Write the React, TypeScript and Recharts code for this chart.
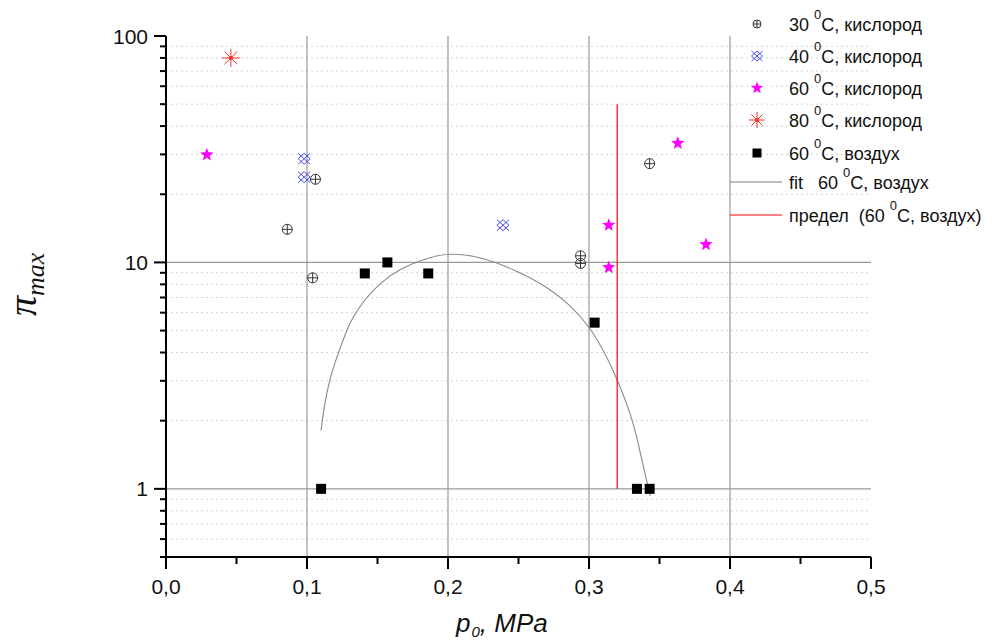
import React from "react";
import {
  ScatterChart, Scatter, XAxis, YAxis, ReferenceLine,
} from "recharts";

// p0, MPa vs pi_max
const o2At30 = [
  { x: 0.086, y: 14.0 }, { x: 0.104, y: 8.55 }, { x: 0.106, y: 23.3 },
  { x: 0.294, y: 10.7 }, { x: 0.294, y: 9.9 }, { x: 0.343, y: 27.3 },
];
const o2At40 = [{ x: 0.098, y: 28.7 }, { x: 0.098, y: 23.8 }, { x: 0.239, y: 14.6 }];
const o2At60 = [
  { x: 0.029, y: 29.9 }, { x: 0.314, y: 14.6 }, { x: 0.314, y: 9.5 },
  { x: 0.363, y: 33.6 }, { x: 0.383, y: 12.0 },
];
const o2At80 = [{ x: 0.046, y: 80 }];
const airAt60 = [
  { x: 0.110, y: 1 }, { x: 0.141, y: 8.94 }, { x: 0.157, y: 10 }, { x: 0.186, y: 8.94 },
  { x: 0.304, y: 5.42 }, { x: 0.334, y: 1 }, { x: 0.343, y: 1 },
];
const fitAir = [
  { x: 0.110, y: 1.81 }, { x: 0.112, y: 2.3 }, { x: 0.1164, y: 3.13 }, { x: 0.1221, y: 3.95 },
  { x: 0.1306, y: 5.57 }, { x: 0.1412, y: 6.9 }, { x: 0.1519, y: 8.11 }, { x: 0.1661, y: 9.44 },
  { x: 0.1874, y: 10.55 }, { x: 0.2002, y: 10.99 }, { x: 0.2229, y: 10.66 }, { x: 0.2512, y: 9.06 },
  { x: 0.2704, y: 7.78 }, { x: 0.2867, y: 6.49 }, { x: 0.3009, y: 5.18 }, { x: 0.313, y: 3.8 },
  { x: 0.3201, y: 3.03 }, { x: 0.3314, y: 2.02 }, { x: 0.3385, y: 1.25 }, { x: 0.3435, y: 0.93 },
];
const limitAir = [{ x: 0.32, y: 1 }, { x: 0.32, y: 50 }];

const xTicks = [0, 0.05, 0.1, 0.15, 0.2, 0.25, 0.3, 0.35, 0.4, 0.45, 0.5];
const xMajor = [0, 0.1, 0.2, 0.3, 0.4, 0.5];
const xGrid = [0.1, 0.2, 0.3, 0.4];
const yTicks = [
  0.5, 0.6, 0.7, 0.8, 0.9, 1, 2, 3, 4, 5, 6, 7, 8, 9,
  10, 20, 30, 40, 50, 60, 70, 80, 90, 100,
];
const yMajor = [1, 10, 100];
const yGrid = [1, 10];
const yMinorGrid = [
  0.6, 0.7, 0.8, 0.9, 2, 3, 4, 5, 6, 7, 8, 9, 20, 30, 40, 50, 60, 70, 80, 90,
];

const SANS = "'Liberation Sans', Arial, sans-serif";

type P = { cx?: number; cy?: number };

const oplus = (cx: number, cy: number, r: number) => (
  <g stroke="#333" strokeWidth={1} fill="none">
    <circle cx={cx} cy={cy} r={r} />
    <line x1={cx - r} x2={cx + r} y1={cy} y2={cy} />
    <line x1={cx} x2={cx} y1={cy - r} y2={cy + r} />
  </g>
);
const hatch = (cx: number, cy: number, w: number, h: number) => (
  <g stroke="#4848e8" strokeWidth={1} fill="none">
    <line x1={cx - w} y1={cy - h} x2={cx + w} y2={cy + h} />
    <line x1={cx - w} y1={cy + h} x2={cx + w} y2={cy - h} />
    <polygon points={`${cx},${cy - h} ${cx + w},${cy} ${cx},${cy + h} ${cx - w},${cy}`} />
  </g>
);
const star = (cx: number, cy: number, r: number) => {
  const pts: string[] = [];
  for (let i = 0; i < 10; i++) {
    const a = -Math.PI / 2 + (i * Math.PI) / 5;
    const rr = i % 2 === 0 ? r : r * 0.42;
    pts.push(`${cx + rr * Math.cos(a)},${cy + rr * Math.sin(a)}`);
  }
  return <polygon points={pts.join(" ")} fill="#ff00ff" />;
};
const asterisk = (cx: number, cy: number, r: number) => (
  <g stroke="#ff3030" strokeWidth={1}>
    {[0, 45, 90, 135].map((d) => {
      const a = (d * Math.PI) / 180;
      return (
        <line key={d} x1={cx - r * Math.cos(a)} y1={cy - r * Math.sin(a)}
          x2={cx + r * Math.cos(a)} y2={cy + r * Math.sin(a)} />
      );
    })}
    <circle cx={cx} cy={cy} r={1.5} fill="#ff3030" />
  </g>
);
const square = (cx: number, cy: number, s: number) => (
  <rect x={cx - s / 2} y={cy - s / 2} width={s} height={s} fill="#000" />
);

const YTick = (props: any) => {
  const { x, y, payload } = props;
  const major = yMajor.includes(payload.value);
  return (
    <g>
      <line x1={x - (major ? 12 : 6)} x2={x} y1={y} y2={y} stroke="#000" strokeWidth={2} />
      {major && (
        <text x={x - 18} y={y + 7.5} textAnchor="end" fontSize={21} fontFamily={SANS} fill="#111">
          {payload.value}
        </text>
      )}
    </g>
  );
};

const XTick = (props: any) => {
  const { x, y, payload } = props;
  const major = xMajor.some((m) => Math.abs(m - payload.value) < 1e-9);
  return (
    <g>
      <line x1={x} x2={x} y1={y} y2={y + (major ? 12 : 7)} stroke="#000" strokeWidth={2} />
      {major && (
        <text x={x} y={y + 37} textAnchor="middle" fontSize={21} fontFamily={SANS} fill="#111">
          {payload.value.toFixed(1).replace(".", ",")}
        </text>
      )}
    </g>
  );
};

const legendItems = [
  { pre: "", num: "30", post: "C, кислород", kind: "oplus" },
  { pre: "", num: "40", post: "C, кислород", kind: "hatch" },
  { pre: "", num: "60", post: "C, кислород", kind: "star" },
  { pre: "", num: "80", post: "C, кислород", kind: "asterisk" },
  { pre: "", num: "60", post: "C, воздух", kind: "square" },
  { pre: "fit   ", num: "60", post: "C, воздух", kind: "fit" },
  { pre: "предел  (", num: "60", post: "C, воздух)", kind: "limit" },
];
const legendRows = [24, 56, 88, 120, 153, 182, 215];

function legendMark(kind: string, cx: number, cy: number) {
  if (kind === "oplus") return oplus(cx, cy, 4);
  if (kind === "hatch") return hatch(cx, cy, 5.5, 5);
  if (kind === "star") return star(cx, cy, 6.5);
  if (kind === "asterisk") return asterisk(cx, cy, 8);
  if (kind === "square") return square(cx, cy, 9);
  const color = kind === "fit" ? "#808080" : "#ff0000";
  return <line x1={730} x2={782} y1={cy} y2={cy} stroke={color} strokeWidth={1} />;
}

export default function App() {
  return (
    <div style={{ position: "absolute", left: 0, top: 0, width: 994, height: 641, background: "#fff" }}>
      <ScatterChart width={994} height={641} margin={{ top: 36, right: 123, bottom: 54, left: 106 }}>
        <XAxis
          type="number" dataKey="x" domain={[0, 0.5]} ticks={xTicks} interval={0}
          height={30} tickSize={0} tickMargin={0} tickLine={false}
          axisLine={{ stroke: "#000", strokeWidth: 2 }} tick={<XTick />}
        />
        <YAxis
          type="number" dataKey="y" scale="log" domain={[0.5, 100]} ticks={yTicks}
          interval={0} allowDataOverflow width={60} tickSize={0} tickMargin={0} tickLine={false}
          axisLine={{ stroke: "#000", strokeWidth: 2 }} tick={<YTick />}
        />
        {yMinorGrid.map((v) => (
          <ReferenceLine key={"m" + v} y={v} stroke="#d4d4d4" strokeDasharray="2 3" />
        ))}
        {yGrid.map((v) => (
          <ReferenceLine key={"y" + v} y={v} stroke="#999" strokeWidth={1.2} />
        ))}
        {xGrid.map((v) => (
          <ReferenceLine key={"x" + v} x={v} stroke="#999" strokeWidth={1.2} />
        ))}
        <Scatter data={fitAir} isAnimationActive={false} line={{ stroke: "#888", strokeWidth: 1.1 }}
          lineJointType="basis" shape={() => <g />} />
        <Scatter data={limitAir} isAnimationActive={false} line={{ stroke: "#ff0000", strokeWidth: 1.2 }}
          shape={() => <g />} />
        <Scatter data={o2At30} isAnimationActive={false}
          shape={(p: P) => oplus(p.cx ?? 0, p.cy ?? 0, 5)} />
        <Scatter data={o2At40} isAnimationActive={false}
          shape={(p: P) => hatch(p.cx ?? 0, p.cy ?? 0, 6, 5.5)} />
        <Scatter data={o2At60} isAnimationActive={false}
          shape={(p: P) => star(p.cx ?? 0, p.cy ?? 0, 7)} />
        <Scatter data={o2At80} isAnimationActive={false}
          shape={(p: P) => asterisk(p.cx ?? 0, p.cy ?? 0, 9)} />
        <Scatter data={airAt60} isAnimationActive={false}
          shape={(p: P) => square(p.cx ?? 0, p.cy ?? 0, 10)} />
      </ScatterChart>

      <svg width={994} height={641} style={{ position: "absolute", left: 0, top: 0, pointerEvents: "none" }}>
        {legendItems.map((it, i) => {
          const cy = legendRows[i];
          return (
            <g key={i}>
              {legendMark(it.kind, 757, cy)}
              <text x={789} y={cy + 7} fontSize={18} fontFamily={SANS} fill="#111" style={{ whiteSpace: "pre" }}>
                <tspan>{it.pre + it.num + " "}</tspan>
                <tspan dy={-12} fontSize={13}>0</tspan>
                <tspan dy={12}>{it.post}</tspan>
              </text>
            </g>
          );
        })}
        <text x={456} y={632} fontSize={26} fontStyle="italic" fontFamily={SANS} fill="#111" style={{ whiteSpace: "pre" }}>
          p<tspan dx={1} dy={5} fontSize={15}>0</tspan><tspan dy={-5}>, MPa</tspan>
        </text>
        <text x={36} y={316} transform="rotate(-90, 36, 316)" fontFamily="'Liberation Serif', 'Times New Roman', serif"
          fontStyle="italic" fill="#111">
          <tspan fontSize={40}>π</tspan>
          <tspan fontSize={26} dy={8}>max</tspan>
        </text>
      </svg>
    </div>
  );
}
